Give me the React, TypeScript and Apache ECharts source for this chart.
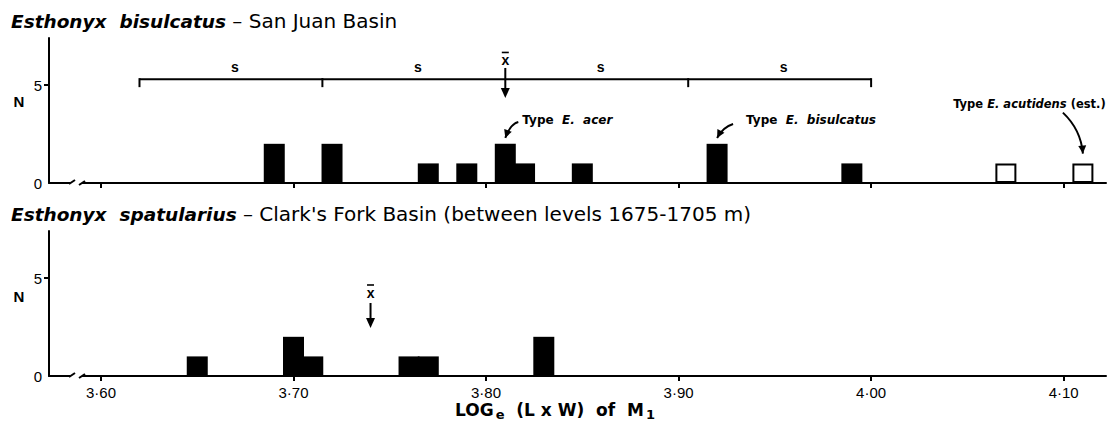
import React, { useEffect, useRef } from "react";
import * as echarts from "echarts";

// ---------- data ----------
const xTicks = [3.6, 3.7, 3.8, 3.9, 4.0, 4.1];
const yTickLabels = [0, 5];
const yTickMarks = [5];

// Esthonyx bisulcatus, San Juan Basin: bin centre (loge L x W) and count N
const sanJuanX = [3.69, 3.72, 3.77, 3.79, 3.81, 3.82, 3.85, 3.92, 3.99];
const sanJuanN = [2, 2, 1, 1, 2, 1, 1, 2, 1];
// open bars: Type E. acutidens (estimated)
const acutidensX = [4.07, 4.11];
const acutidensN = [1, 1];

// Esthonyx spatularius, Clark's Fork Basin
const clarkX = [3.65, 3.7, 3.71, 3.76, 3.77, 3.83];
const clarkN = [1, 2, 1, 1, 1, 2];

const sanJuanMean = 3.81;
const sanJuanSD = 0.095;
const sdBracketLevel = 5.3;
const sanJuanMeanArrowTip = 4.34;
const clarkMean = 3.74;
const clarkMeanArrowTip = 2.45;

const typeNames = ["acer", "bisulcatus", "acutidens"];
const typeX = [3.81, 3.92, 4.11];
const typeY = [2.3, 2.3, 1.5];

// ---------- layout / style ----------
const F = "'Liberation Sans', Arial, sans-serif";
const F2 = "'DejaVu Sans', 'Liberation Sans', sans-serif";
const BLACK = "#000";
const typeLayout = [
  { text: "{n|Type}  {i|E.  acer}", size: 12, tx: 17, ty: -18, align: "left", sx: 13, sy: -16, cx: 5, cy: -14 },
  { text: "{n|Type}  {i|E.  bisulcatus}", size: 12, tx: 29, ty: -18, align: "left", sx: 16, sy: -14, cx: 6, cy: -11 },
  { text: "{n|Type} {i|E. acutidens} {n|(est.)}", size: 11.5, tx: -53.5, ty: -50, align: "center", sx: -20, sy: -41, cx: -2, cy: -24 },
];

function arrowHead(tx: number, ty: number, fx: number, fy: number, len = 9, w = 4) {
  const dx = tx - fx, dy = ty - fy;
  const d = Math.hypot(dx, dy) || 1;
  const ux = dx / d, uy = dy / d;
  const bx = tx - ux * len, by = ty - uy * len;
  return {
    type: "polygon",
    shape: { points: [[tx, ty], [bx - uy * w, by + ux * w], [bx + uy * w, by - ux * w]] },
    style: { fill: BLACK },
  };
}

function txt(x: number, y: number, text: string, extra: any = {}) {
  return {
    type: "text",
    x,
    y,
    z: 100,
    style: {
      text,
      fill: BLACK,
      fontFamily: F,
      fontSize: 13,
      fontWeight: "bold",
      align: "center",
      textAlign: "center",
      verticalAlign: "middle",
      textVerticalAlign: "middle",
      ...extra,
    },
  };
}

function meanArrowSeries(grid: number, mean: number, tip: number, shaft: number, labelOff: number, barOff: number) {
  return {
    type: "custom",
    xAxisIndex: grid,
    yAxisIndex: grid,
    silent: true,
    clip: false,
    data: [[mean, tip]],
    renderItem: (params: any, api: any) => {
      const p = api.coord([api.value(0), api.value(1)]);
      const px = p[0], py = p[1];
      const top = py - shaft;
      return {
        type: "group",
        children: [
          { type: "line", shape: { x1: px, y1: top, x2: px, y2: py - 6 }, style: { stroke: BLACK, lineWidth: 2 } },
          arrowHead(px, py, px, top, 10, 4.5),
          txt(px, top + labelOff, "x", { fontSize: 14 }),
          { type: "line", shape: { x1: px - 3.5, y1: top + barOff, x2: px + 3.5, y2: top + barOff }, style: { stroke: BLACK, lineWidth: 1.6 } },
        ],
      };
    },
  };
}

function axesFor(grid: number, showLabels: boolean) {
  return {
    x: {
      type: "value",
      gridIndex: grid,
      min: 3.573,
      max: 4.122,
      axisLine: { show: true, onZero: false, lineStyle: { color: BLACK, width: 2 } },
      axisTick: { show: true, customValues: xTicks, length: 5, lineStyle: { color: BLACK, width: 2 } },
      axisLabel: {
        show: showLabels,
        customValues: xTicks,
        formatter: (v: number) => v.toFixed(2).replace(".", "·"),
        color: BLACK,
        fontSize: 15,
        fontFamily: F,
        margin: 9,
      },
      splitLine: { show: false },
    },
    y: {
      type: "value",
      gridIndex: grid,
      min: 0,
      max: 7.4,
      axisLine: { show: true, lineStyle: { color: BLACK, width: 2 } },
      axisTick: { show: true, customValues: yTickMarks, length: 5, lineStyle: { color: BLACK, width: 2 } },
      axisLabel: { show: true, customValues: yTickLabels, color: BLACK, fontSize: 15, fontFamily: F, margin: 7 },
      splitLine: { show: false },
    },
  };
}

function breakMarks(y: number) {
  return [
    { type: "rect", z: 100, shape: { x: 70, y: y - 5, width: 12, height: 10 }, style: { fill: "#fff" } },
    { type: "line", z: 101, shape: { x1: 64, y1: y, x2: 70, y2: y }, style: { stroke: BLACK, lineWidth: 2 } },
    { type: "line", z: 101, shape: { x1: 69, y1: y + 1, x2: 75, y2: y - 3 }, style: { stroke: BLACK, lineWidth: 2 } },
    { type: "line", z: 101, shape: { x1: 79, y1: y + 2, x2: 85, y2: y - 2 }, style: { stroke: BLACK, lineWidth: 2 } },
  ];
}

export default function App() {
  const ref = useRef<HTMLDivElement>(null);
  useEffect(() => {
    if (!ref.current) return;
    const chart = echarts.init(ref.current, undefined, { renderer: "svg" });
    const a0 = axesFor(0, false);
    const a1 = axesFor(1, true);

    const topBars = [
      ...sanJuanX.map((x, i) => ({ value: [x, sanJuanN[i]], itemStyle: { color: BLACK } })),
      ...acutidensX.map((x, i) => ({
        value: [x, acutidensN[i]],
        itemStyle: { color: "#fff", borderColor: BLACK, borderWidth: 2 },
      })),
    ];
    const bottomBars = clarkX.map((x, i) => ({ value: [x, clarkN[i]], itemStyle: { color: BLACK } }));

    const titleRich = {
      i: { fontStyle: "italic", fontWeight: "bold", fontSize: 18.5, fontFamily: F2, fill: BLACK },
    };

    const option: any = {
      animation: false,
      backgroundColor: "#fff",
      grid: [
        { left: 49, top: 38, width: 1057, height: 145 },
        { left: 49, top: 231, width: 1057, height: 145 },
      ],
      xAxis: [a0.x, a1.x],
      yAxis: [a0.y, a1.y],
      series: [
        { type: "bar", xAxisIndex: 0, yAxisIndex: 0, barWidth: 21, data: topBars, silent: true },
        { type: "bar", xAxisIndex: 1, yAxisIndex: 1, barWidth: 21, data: bottomBars, silent: true },
        {
          type: "custom",
          xAxisIndex: 0,
          yAxisIndex: 0,
          silent: true,
          clip: false,
          data: [[sanJuanMean, sanJuanSD, sdBracketLevel]],
          renderItem: (params: any, api: any) => {
            const m = api.value(0), s = api.value(1), lvl = api.value(2);
            const xs = [m - 2 * s, m - s, m, m + s, m + 2 * s].map((v) => api.coord([v, lvl])[0]);
            const y = api.coord([m, lvl])[1];
            const children: any[] = [
              { type: "line", shape: { x1: xs[0], y1: y, x2: xs[4], y2: y }, style: { stroke: BLACK, lineWidth: 2 } },
            ];
            [0, 1, 3, 4].forEach((i) =>
              children.push({ type: "line", shape: { x1: xs[i], y1: y - 1, x2: xs[i], y2: y + 8 }, style: { stroke: BLACK, lineWidth: 2 } })
            );
            for (let i = 0; i < 4; i++) children.push(txt((xs[i] + xs[i + 1]) / 2 + 4, y - 12, "s", { fontSize: 14 }));
            return { type: "group", children };
          },
        },
        meanArrowSeries(0, sanJuanMean, sanJuanMeanArrowTip, 30, -8, -15.5),
        meanArrowSeries(1, clarkMean, clarkMeanArrowTip, 25, -10, -18),
        {
          type: "custom",
          xAxisIndex: 0,
          yAxisIndex: 0,
          silent: true,
          clip: false,
          data: typeNames.map((n, i) => [typeX[i], typeY[i]]),
          renderItem: (params: any, api: any) => {
            const L = typeLayout[params.dataIndex];
            const p = api.coord([api.value(0), api.value(1)]);
            const tx = p[0], ty = p[1];
            const sx = tx + L.sx, sy = ty + L.sy;
            const cx = tx + L.cx, cy = ty + L.cy;
            return {
              type: "group",
              children: [
                {
                  type: "bezierCurve",
                  shape: { x1: sx, y1: sy, x2: tx, y2: ty, cpx1: cx, cpy1: cy },
                  style: { stroke: BLACK, fill: "none", lineWidth: 2 },
                },
                arrowHead(tx, ty, cx, cy, 8, 4),
                txt(tx + L.tx, ty + L.ty, L.text, {
                  align: L.align,
                  textAlign: L.align,
                  fontFamily: F2,
                  fontSize: L.size,
                  rich: {
                    n: { fontWeight: "bold", fontSize: L.size, fontFamily: F2, fill: BLACK },
                    i: { fontWeight: "bold", fontStyle: "italic", fontSize: L.size, fontFamily: F2, fill: BLACK },
                  },
                }),
              ],
            };
          },
        },
      ],
      graphic: [
        {
          type: "text",
          x: 11,
          y: 21,
          z: 100,
          style: {
            text: "{i|Esthonyx  bisulcatus} – San Juan Basin",
            fontSize: 20,
            fontFamily: F2,
            fill: BLACK,
            textVerticalAlign: "middle",
            verticalAlign: "middle",
            rich: titleRich,
          },
        },
        {
          type: "text",
          x: 11,
          y: 214,
          z: 100,
          style: {
            text: "{i|Esthonyx  spatularius} – Clark's Fork Basin (between levels 1675-1705 m)",
            fontSize: 20,
            fontFamily: F2,
            fill: BLACK,
            textVerticalAlign: "middle",
            verticalAlign: "middle",
            rich: titleRich,
          },
        },
        txt(19, 101, "N", { fontSize: 15 }),
        txt(19, 296, "N", { fontSize: 15 }),
        {
          type: "text",
          x: 455,
          y: 410,
          z: 100,
          style: {
            text: "LOG{s|e}  (L x W)  of  M{s|1}",
            fontSize: 17,
            fontWeight: "bold",
            fontFamily: F2,
            fill: BLACK,
            textVerticalAlign: "middle",
            verticalAlign: "middle",
            rich: { s: { fontSize: 13, fontWeight: "bold", fontFamily: F2, fill: BLACK, padding: [8, 0, 0, 2] } },
          },
        },
        ...breakMarks(183),
        ...breakMarks(376),
      ],
    };
    chart.setOption(option);
    return () => chart.dispose();
  }, []);
  return <div ref={ref} style={{ position: "fixed", left: 0, top: 0, width: 1108, height: 421 }} />;
}
